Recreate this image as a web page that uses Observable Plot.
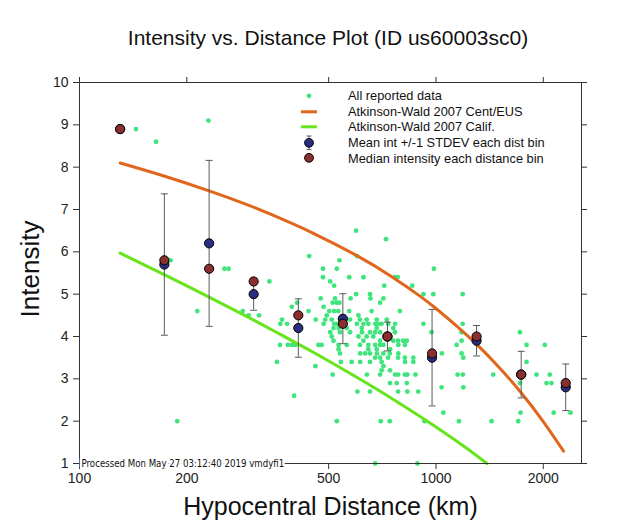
<!DOCTYPE html>
<html>
<head>
<meta charset="utf-8">
<script src="https://cdn.jsdelivr.net/npm/d3@7"></script>
<script src="https://cdn.jsdelivr.net/npm/@observablehq/plot@0.6"></script>
<style>
  body { margin: 0; background: #fff; font-family: "Liberation Sans", Arial, sans-serif; }
  #wrap { position: relative; width: 639px; height: 529px; overflow: hidden; }
  #title { height: 60px; box-sizing: border-box; padding-top: 26px; padding-left: 17px; text-align: center;
           font-size: 21px; line-height: 24px; color: #111; }
  #legend { position: absolute; left: 296px; top: 88px; font-size: 12.8px; color: #111; }
  .row { display: flex; align-items: center; height: 15.6px; white-space: nowrap; }
  .row svg { width: 26px; height: 15.6px; margin-right: 26px; overflow: visible; flex: none; }
</style>
</head>
<body>
<div id="wrap">
  <div id="title">Intensity vs. Distance Plot (ID us60003sc0)</div>
  <div id="chart"></div>
  <div id="legend"></div>
</div>
<script>
// ---------- data ----------
const xTicks = [100, 200, 500, 1000, 2000];
const yTicks = [1, 2, 3, 4, 5, 6, 7, 8, 9, 10];

// All reported data (hypocentral distance km, intensity)
const reportedDist = [
  230, 144, 164, 597, 724, 441, 600, 180, 536,
  255, 262, 482, 527, 987,
  482, 571, 626, 768, 781,
  341, 505,
  518, 716, 858,
  597, 653, 922, 983, 1188,
  475, 521, 576, 655, 712,
  408, 513, 527, 536, 697,
  394, 484,
  214, 287, 439, 502, 518, 532, 571, 660, 792,
  298, 319, 494, 606,
  370, 460, 489, 510, 538, 574, 612, 639, 682, 728,
  366, 382, 484, 518, 527, 556, 600, 626, 646, 676, 689, 704, 734, 768, 922, 1188,
  516, 533, 562, 619, 682, 759,
  505, 538, 574, 620, 653, 675, 697, 767, 972, 1180, 1720,
  510, 606, 639, 667,
  516, 626, 697, 759, 783, 809, 828, 1180,
  365, 384, 395, 403, 468, 478, 533, 562, 612, 646, 675, 697, 712, 784, 818, 1143, 1795, 2020,
  533, 646, 682, 743,
  538, 613, 633, 653, 683, 712, 742, 784, 1039, 1180,
  675, 697, 734, 783, 818, 864, 1193,
  358, 541, 580, 613, 653, 704, 819, 864, 1795,
  459, 712,
  704, 743,
  513, 640, 697, 768, 783, 818, 831, 876, 1150, 1190, 1447, 1914, 2086,
  743, 776, 828, 1720, 2042, 2108,
  1037, 1193,
  602, 653, 783, 831, 892,
  400,
  1049, 1727, 2139, 2384,
  188, 527, 700, 742, 928, 1160, 1432, 1701,
  675, 887
];
const reportedMMI = [
  9.1, 8.9, 8.6, 6.5, 6.3, 5.9, 5.9, 5.8, 5.8,
  5.6, 5.6, 5.6, 5.6, 5.6,
  5.4, 5.4, 5.4, 5.4, 5.4,
  5.3, 5.3,
  5.2, 5.2, 5.2,
  5.0, 5.0, 5.0, 5.0, 5.0,
  4.9, 4.9, 4.9, 4.9, 4.9,
  4.8, 4.8, 4.8, 4.8, 4.8,
  4.7, 4.7,
  4.6, 4.6, 4.6, 4.6, 4.6, 4.6, 4.6, 4.6, 4.6,
  4.5, 4.5, 4.5, 4.5,
  4.4, 4.4, 4.4, 4.4, 4.4, 4.4, 4.4, 4.4, 4.4, 4.4,
  4.3, 4.3, 4.3, 4.3, 4.3, 4.3, 4.3, 4.3, 4.3, 4.3, 4.3, 4.3, 4.3, 4.3, 4.3, 4.3,
  4.2, 4.2, 4.2, 4.2, 4.2, 4.2,
  4.1, 4.1, 4.1, 4.1, 4.1, 4.1, 4.1, 4.1, 4.1, 4.1, 4.1,
  4.0, 4.0, 4.0, 4.0,
  3.9, 3.9, 3.9, 3.9, 3.9, 3.9, 3.9, 3.9,
  3.8, 3.8, 3.8, 3.8, 3.8, 3.8, 3.8, 3.8, 3.8, 3.8, 3.8, 3.8, 3.8, 3.8, 3.8, 3.8, 3.8, 3.8,
  3.7, 3.7, 3.7, 3.7,
  3.6, 3.6, 3.6, 3.6, 3.6, 3.6, 3.6, 3.6, 3.6, 3.6,
  3.5, 3.5, 3.5, 3.5, 3.5, 3.5, 3.5,
  3.4, 3.4, 3.4, 3.4, 3.4, 3.4, 3.4, 3.4, 3.4,
  3.3, 3.3,
  3.2, 3.2,
  3.1, 3.1, 3.1, 3.1, 3.1, 3.1, 3.1, 3.1, 3.1, 3.1, 3.1, 3.1, 3.1,
  2.9, 2.9, 2.9, 2.9, 2.9, 2.9,
  2.8, 2.8,
  2.7, 2.7, 2.7, 2.7, 2.7,
  2.6,
  2.2, 2.2, 2.2, 2.2,
  2.0, 2.0, 2.0, 2.0, 2.0, 2.0, 2.0, 2.0,
  1.0, 1.0
];

// Atkinson-Wald 2007 curves
const ceusDist = [130, 170, 231, 300, 366, 450, 600, 759, 900, 1004, 1150, 1300, 1500, 1738, 2000, 2280];
const ceusMMI  = [8.10, 7.81, 7.44, 7.09, 6.79, 6.45, 5.91, 5.39, 4.96, 4.65, 4.23, 3.82, 3.28, 2.66, 1.99, 1.29];
const califDist = [130, 170, 231, 300, 366, 450, 550, 690, 850, 1000, 1200, 1390];
const califMMI  = [5.97, 5.49, 4.93, 4.44, 4.05, 3.64, 3.22, 2.73, 2.25, 1.86, 1.40, 1.0];

// Distance bins: mean, stdev, median
const binDist   = [130, 173, 231, 308, 411, 548, 731, 975, 1300, 1734, 2312];
const binMean   = [8.9, 5.7, 6.2, 5.0, 4.2, 4.42, 4.0, 3.5, 3.9, 3.1, 2.8];
const binStd    = [0, 1.67, 1.96, 0.38, 0.69, 0.59, 0.34, 1.14, 0.36, 0.55, 0.55];
const binMedian = [8.9, 5.8, 5.6, 5.3, 4.5, 4.3, 4.0, 3.6, 4.0, 3.1, 2.9];

// ---------- styles ----------
const cPoint = "#3fe57c";
const cCEUS = "#e0661c";
const cCalif = "#66e41c";
const cMean = "#2a2e80";
const cMedian = "#8a2f2f";
const cBar = "#5a5a5a";
const cAxis = "#333";

// ---------- tables ----------
const reported = reportedDist.map((d, k) => ({d, mmi: reportedMMI[k]}));
const ceus = ceusDist.map((d, k) => ({d, mmi: ceusMMI[k]}));
const calif = califDist.map((d, k) => ({d, mmi: califMMI[k]}));
const bins = binDist.map((d, k) => ({d, mean: binMean[k], std: binStd[k], median: binMedian[k]}));

const capSymbol = {draw(ctx) { ctx.moveTo(-3.5, 0); ctx.lineTo(3.5, 0); }};

const chart = Plot.plot({
  width: 639,
  height: 469,
  marginLeft: 79,
  marginRight: 58,
  marginTop: 22,
  marginBottom: 66,
  style: {fontFamily: "'Liberation Sans', Arial, sans-serif", background: "white", color: "#222", overflow: "visible"},
  x: {type: "log", domain: [100, 2560], label: null},
  y: {domain: [1, 10], label: null},
  marks: [
    Plot.dot(reported, {x: "d", y: "mmi", r: 2.4, fill: cPoint, stroke: "none"}),
    Plot.line(ceus, {x: "d", y: "mmi", stroke: cCEUS, strokeWidth: 3, curve: "natural"}),
    Plot.line(calif, {x: "d", y: "mmi", stroke: cCalif, strokeWidth: 3, curve: "natural"}),
    Plot.ruleX(bins, {x: "d", y1: b => b.mean - b.std, y2: b => b.mean + b.std, stroke: cBar, strokeWidth: 1}),
    Plot.dot(bins, {x: "d", y: b => b.mean + b.std, symbol: capSymbol, stroke: cBar, strokeWidth: 1, fill: "none"}),
    Plot.dot(bins, {x: "d", y: b => b.mean - b.std, symbol: capSymbol, stroke: cBar, strokeWidth: 1, fill: "none"}),
    Plot.dot(bins, {x: "d", y: "mean", r: 4.6, fill: cMean, stroke: "#000", strokeWidth: 1}),
    Plot.dot(bins, {x: "d", y: "median", r: 4.6, fill: cMedian, stroke: "#000", strokeWidth: 1}),
    Plot.frame({stroke: cAxis, strokeWidth: 1}),
    Plot.axisX({ticks: xTicks, tickFormat: d => String(d), tickSize: 6, tickPadding: 4, fontSize: 14, label: null, stroke: cAxis}),
    Plot.axisX({anchor: "top", ticks: xTicks, tickFormat: () => "", tickSize: 6, label: null, stroke: cAxis}),
    Plot.axisY({ticks: yTicks, tickSize: 6, tickPadding: 5, fontSize: 14, label: null, stroke: cAxis}),
    Plot.axisY({anchor: "right", ticks: yTicks, tickFormat: () => "", tickSize: 5, label: null, stroke: cAxis}),
    Plot.text(["Processed Mon May 27 03:12:40 2019 vmdyfi1"], {
      frameAnchor: "bottom-left", dx: 2, textAnchor: "start", lineAnchor: "middle",
      fontSize: 9.6, fontFamily: "'Liberation Sans Narrow', 'DejaVu Sans Condensed', sans-serif",
      fill: "#111", stroke: "white", strokeWidth: 5
    }),
    Plot.text(["Intensity"], {frameAnchor: "left", textAnchor: "middle", lineAnchor: "middle", dx: -49, dy: -4, rotate: -90, fontSize: 26, fill: "#111"}),
    Plot.text(["Hypocentral Distance (km)"], {frameAnchor: "bottom", dy: 51, fontSize: 25, fill: "#111"})
  ]
});
document.getElementById("chart").appendChild(chart);

// ---------- legend ----------
const legendItems = [
  {label: "All reported data", swatch: `<circle cx="13" cy="7.8" r="2.4" fill="${cPoint}"/>`},
  {label: "Atkinson-Wald 2007 Cent/EUS", swatch: `<line x1="5" x2="21" y1="7.8" y2="7.8" stroke="${cCEUS}" stroke-width="3"/>`},
  {label: "Atkinson-Wald 2007 Calif.", swatch: `<line x1="5" x2="21" y1="7.8" y2="7.8" stroke="${cCalif}" stroke-width="3"/>`},
  {label: "Mean int +/-1 STDEV each dist bin", swatch:
    `<line x1="13" x2="13" y1="1" y2="14.6" stroke="${cBar}"/><line x1="10.5" x2="15.5" y1="1" y2="1" stroke="${cBar}"/>` +
    `<line x1="10.5" x2="15.5" y1="14.6" y2="14.6" stroke="${cBar}"/><circle cx="13" cy="7.8" r="4.4" fill="${cMean}" stroke="#000"/>`},
  {label: "Median intensity each distance bin", swatch: `<circle cx="13" cy="7.8" r="4.4" fill="${cMedian}" stroke="#000"/>`}
];
document.getElementById("legend").innerHTML = legendItems.map(it =>
  `<div class="row"><svg viewBox="0 0 26 15.6">${it.swatch}</svg><span>${it.label}</span></div>`).join("");
</script>
</body>
</html>
